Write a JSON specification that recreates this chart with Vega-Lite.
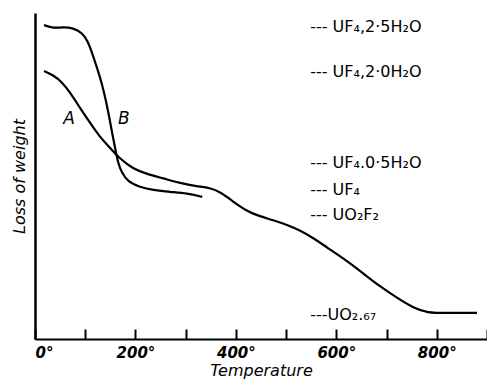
{
  "$schema": "https://vega.github.io/schema/vega-lite/v6.json",
  "width": 452,
  "height": 326,
  "autosize": "none",
  "padding": {"left": 35, "top": 13, "right": 0, "bottom": 40},
  "background": "white",
  "config": {"view": {"stroke": null}},
  "datasets": {
    "curves": [
      {"series": "B", "T": 18, "v": 96.3},
      {"series": "B", "T": 36, "v": 95.3},
      {"series": "B", "T": 56, "v": 95.7},
      {"series": "B", "T": 76, "v": 95.4},
      {"series": "B", "T": 94, "v": 93.9},
      {"series": "B", "T": 104, "v": 91.7},
      {"series": "B", "T": 114, "v": 87.7},
      {"series": "B", "T": 123, "v": 83.4},
      {"series": "B", "T": 133, "v": 78.5},
      {"series": "B", "T": 141, "v": 73.3},
      {"series": "B", "T": 149, "v": 67.2},
      {"series": "B", "T": 155, "v": 62.0},
      {"series": "B", "T": 161, "v": 57.4},
      {"series": "B", "T": 165, "v": 54.3},
      {"series": "B", "T": 172, "v": 51.2},
      {"series": "B", "T": 185, "v": 48.2},
      {"series": "B", "T": 209, "v": 46.6},
      {"series": "B", "T": 235, "v": 45.7},
      {"series": "B", "T": 269, "v": 45.1},
      {"series": "B", "T": 303, "v": 44.7},
      {"series": "B", "T": 333, "v": 43.6},
      {"series": "A", "T": 18, "v": 82.2},
      {"series": "A", "T": 36, "v": 81.0},
      {"series": "A", "T": 54, "v": 78.8},
      {"series": "A", "T": 70, "v": 75.6},
      {"series": "A", "T": 90, "v": 70.8},
      {"series": "A", "T": 110, "v": 66.2},
      {"series": "A", "T": 129, "v": 62.0},
      {"series": "A", "T": 149, "v": 58.7},
      {"series": "A", "T": 169, "v": 55.3},
      {"series": "A", "T": 195, "v": 52.2},
      {"series": "A", "T": 223, "v": 50.6},
      {"series": "A", "T": 255, "v": 49.3},
      {"series": "A", "T": 289, "v": 47.8},
      {"series": "A", "T": 323, "v": 46.8},
      {"series": "A", "T": 348, "v": 46.4},
      {"series": "A", "T": 370, "v": 45.0},
      {"series": "A", "T": 394, "v": 42.2},
      {"series": "A", "T": 422, "v": 39.2},
      {"series": "A", "T": 448, "v": 37.6},
      {"series": "A", "T": 474, "v": 36.5},
      {"series": "A", "T": 502, "v": 35.0},
      {"series": "A", "T": 528, "v": 33.3},
      {"series": "A", "T": 554, "v": 31.0},
      {"series": "A", "T": 581, "v": 28.1},
      {"series": "A", "T": 621, "v": 24.0},
      {"series": "A", "T": 653, "v": 20.2},
      {"series": "A", "T": 687, "v": 16.1},
      {"series": "A", "T": 721, "v": 12.6},
      {"series": "A", "T": 753, "v": 9.6},
      {"series": "A", "T": 781, "v": 8.0},
      {"series": "A", "T": 820, "v": 8.0},
      {"series": "A", "T": 880, "v": 8.0}
    ],
    "compounds": [
      {"T": 548, "v": 95.7, "label": "--- UF₄,2·5H₂O"},
      {"T": 548, "v": 81.9, "label": "--- UF₄,2·0H₂O"},
      {"T": 548, "v": 54.0, "label": "--- UF₄.0·5H₂O"},
      {"T": 548, "v": 45.7, "label": "--- UF₄"},
      {"T": 548, "v": 38.0, "label": "--- UO₂F₂"},
      {"T": 548, "v": 7.4, "label": "---UO₂.₆₇"}
    ],
    "letters": [
      {"T": 68, "v": 67.5, "label": "A"},
      {"T": 177, "v": 67.5, "label": "B"}
    ]
  },
  "encoding": {
    "x": {
      "field": "T",
      "type": "quantitative",
      "scale": {"domain": [0, 900], "nice": false, "zero": false},
      "axis": {
        "values": [0, 100, 200, 300, 400, 500, 600, 700, 800, 900],
        "labelExpr": "datum.value % 200 === 0 ? datum.value + '°' : ''",
        "title": "Temperature",
        "grid": false,
        "domainColor": "black",
        "domainWidth": 2,
        "tickColor": "black",
        "tickWidth": 2,
        "tickSize": -10,
        "labelFont": "DejaVu Sans",
        "labelFontStyle": "italic",
        "labelFontWeight": "bold",
        "labelFontSize": 15,
        "labelColor": "black",
        "labelPadding": 16,
        "labelFlush": true,
        "titleFont": "DejaVu Sans",
        "titleFontStyle": "italic",
        "titleFontWeight": "normal",
        "titleFontSize": 16,
        "titleColor": "black",
        "titlePadding": 2
      }
    },
    "y": {
      "field": "v",
      "type": "quantitative",
      "scale": {"domain": [0, 100], "nice": false},
      "axis": {
        "title": "Loss of weight",
        "grid": false,
        "ticks": false,
        "labels": false,
        "domainColor": "black",
        "domainWidth": 2.5,
        "titleFont": "DejaVu Sans",
        "titleFontStyle": "italic",
        "titleFontWeight": "normal",
        "titleFontSize": 16,
        "titleColor": "black",
        "titlePadding": 8
      }
    }
  },
  "layer": [
    {
      "data": {"name": "curves"},
      "mark": {"type": "line", "color": "black", "strokeWidth": 2.2, "interpolate": "basis"},
      "encoding": {"detail": {"field": "series"}}
    },
    {
      "data": {"name": "compounds"},
      "mark": {"type": "text", "align": "left", "baseline": "middle", "font": "DejaVu Sans", "fontSize": 16, "color": "black"},
      "encoding": {"text": {"field": "label"}}
    },
    {
      "data": {"name": "letters"},
      "mark": {"type": "text", "align": "center", "baseline": "middle", "font": "DejaVu Sans", "fontStyle": "italic", "fontSize": 17, "color": "black"},
      "encoding": {"text": {"field": "label"}}
    }
  ]
}
